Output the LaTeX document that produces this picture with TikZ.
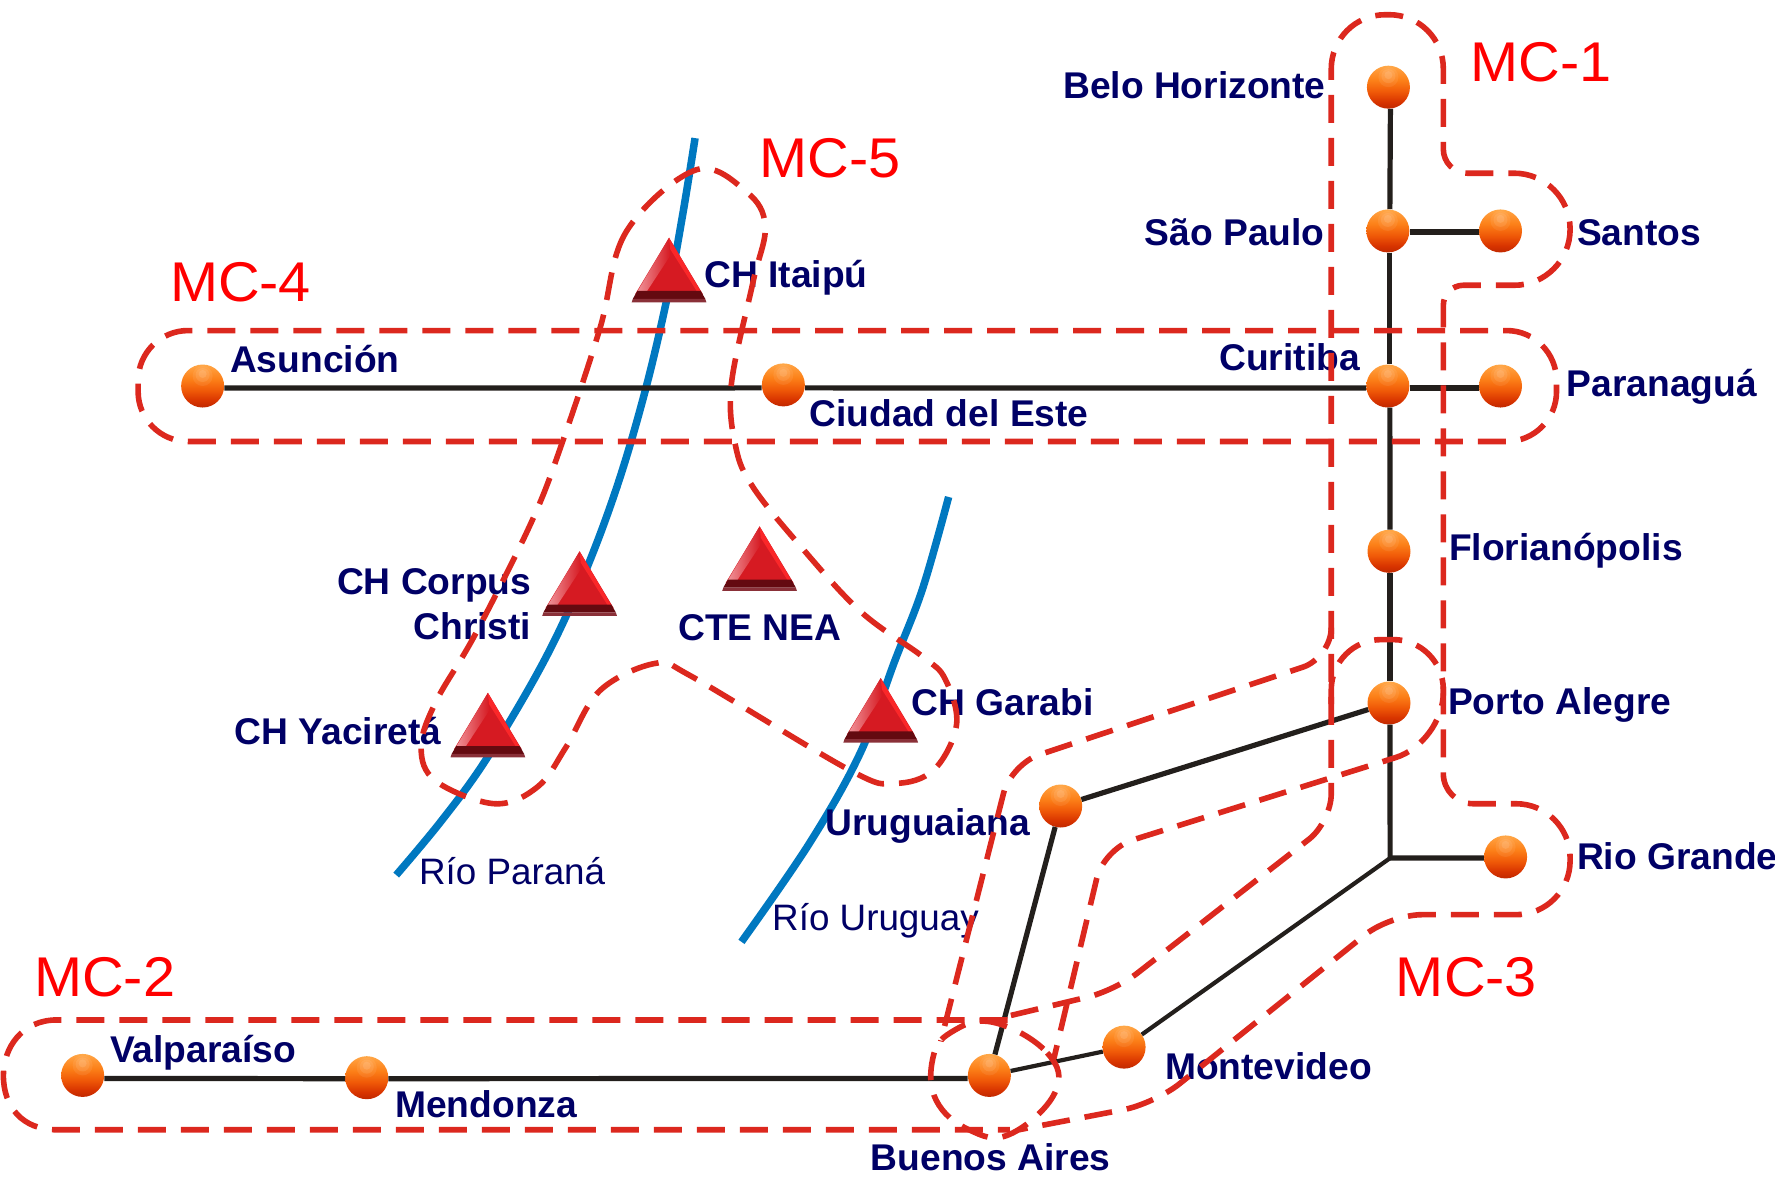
\documentclass[tikz,border=0pt]{standalone}
\usepackage{fontspec}
\setmainfont{Liberation Sans}
\newfontfamily\mcfont[FakeStretch=1.03]{Liberation Sans}
\definecolor{navytxt}{HTML}{000066}
\definecolor{mcred}{HTML}{DC281E}
\definecolor{mclabel}{HTML}{FF0000}
\definecolor{river}{HTML}{0078C0}
\definecolor{wire}{HTML}{231F1C}
\definecolor{mainred}{HTML}{D61A22}
\definecolor{darkred}{HTML}{640A10}
\definecolor{edgered}{HTML}{8A3038}
\definecolor{pinkred}{HTML}{EE8088}
\definecolor{orbB}{HTML}{FFA848}
\definecolor{orbC}{HTML}{FF9A38}
\definecolor{orbD}{HTML}{FC8018}
\definecolor{orbE}{HTML}{F05A08}
\definecolor{orbF}{HTML}{D83400}
\definecolor{orbG}{HTML}{C02800}
\pgfdeclareverticalshading{orbshade}{100bp}{
  color(0bp)=(orbG);
  color(25bp)=(orbG);
  color(33bp)=(orbF);
  color(45bp)=(orbE);
  color(58bp)=(orbD);
  color(70bp)=(orbC);
  color(75bp)=(orbB);
  color(100bp)=(orbB)}
\tikzset{
  orb/.style={circle,minimum size=43pt,inner sep=0pt,shading=orbshade,
    path picture={
      \fill[white,opacity=.07] ([yshift=10pt]path picture bounding box.center) circle (10pt);
      \fill[white,opacity=.09] ([yshift=11pt]path picture bounding box.center) circle (7pt);
      \fill[white,opacity=.11] ([yshift=12pt]path picture bounding box.center) circle (4pt);
    }},
  wirethick/.style={draw=wire,line width=5.2pt},
  wirethin/.style={draw=wire,line width=4.2pt},
  riverline/.style={draw=river,line width=7.5pt},
  zone/.style={draw=mcred,line width=5.6pt,dash pattern=on 28pt off 15pt},
  place/.style={anchor=base west,inner sep=0pt,text=navytxt,font=\fontsize{37.2}{45}\selectfont\bfseries},
  riverlabel/.style={anchor=base west,inner sep=0pt,text=navytxt,font=\fontsize{36.8}{45}\selectfont},
  mclbl/.style={anchor=base west,inner sep=0pt,text=mclabel,font=\fontsize{56}{60}\selectfont\mcfont}
}
\usetikzlibrary{calc}
\newcommand{\plant}[3]{%
  \coordinate (#1) at (#2,#3);
  \fill[mainred] ($(#1)+(0,-54)$) -- ($(#1)+(-30,-4)$) -- ($(#1)+(30,-4)$) -- cycle;
  \shade[left color=pinkred!80!white,right color=mainred] ($(#1)+(0,-54)$) -- ($(#1)+(-30,-3)$) -- ($(#1)+(-20,-6)$) -- ($(#1)+(1,-38)$) -- cycle;
  \fill[red!70!pinkred] ($(#1)+(0,-54)$) -- ($(#1)+(30,-3)$) -- ($(#1)+(25,-6)$) -- ($(#1)+(1,-44)$) -- cycle;
  \fill[darkred] ($(#1)+(-28,-7)$) -- ($(#1)+(28,-7)$) -- ($(#1)+(32,0)$) -- ($(#1)+(-32,0)$) -- cycle;
  \fill[edgered] ($(#1)+(-32,0)$) -- ($(#1)+(32,0)$) -- ($(#1)+(33,3)$) -- ($(#1)+(-33,3)$) -- cycle;
}
\begin{document}
\begin{tikzpicture}[x=1.1320pt,y=-1.1320pt]
\useasboundingbox (0,0) rectangle (1568,1039.7);
% rivers
\draw[riverline] plot[smooth,tension=.6] coordinates {(614,122) (603,190) (590,260) (570,345) (545,430) (515,510) (480,585) (430,670) (390,725) (350,773)};
\draw[riverline] plot[smooth,tension=.6] coordinates {(838,439) (815,520) (790,585) (760,665) (715,745) (655,832)};
% stations
\node[orb] (bh) at (1226.5,77) {};
\node[orb] (sp) at (1226,204) {};
\node[orb] (sa) at (1325.5,204) {};
\node[orb] (cu) at (1226,341) {};
\node[orb] (pg) at (1325.5,341) {};
\node[orb] (fl) at (1227,487) {};
\node[orb] (pa) at (1227,621) {};
\node[orb] (rg) at (1330,757) {};
\node[orb] (ur) at (937,712) {};
\node[orb] (ba) at (874,950) {};
\node[orb] (mv) at (993,925) {};
\node[orb] (me) at (324,952) {};
\node[orb] (va) at (73,950) {};
\node[orb] (as) at (179,341) {};
\node[orb] (ce) at (692,340) {};
\coordinate (jn) at (1228,758);
% connectors
\draw[wirethick] ([xshift=2pt]bh.south) -- ([xshift=2pt]sp.north);
\draw[wirethick] ([xshift=2pt]sp.south) -- ([xshift=2pt]cu.north);
\draw[wirethick] ([yshift=-1pt]sp.east) -- ([yshift=-1pt]sa.west);
\draw[wirethick] ([yshift=-2pt]as.east) -- ([yshift=-3pt]ce.west);
\draw[wirethick] ([yshift=-3pt]ce.east) -- ([yshift=-2pt]cu.west);
\draw[wirethick] ([yshift=-2pt]cu.east) -- ([yshift=-2pt]pg.west);
\draw[wirethick] ([xshift=2pt]cu.south) -- ([xshift=1pt]fl.north);
\draw[wirethick] ([xshift=1pt]fl.south) -- ([xshift=1pt]pa.north);
\draw[wirethick] ([xshift=1pt]pa.south) -- (jn);
\draw[wirethick] (jn) -- ([yshift=-1pt]rg.west);
\draw[wirethin] (jn) -- (mv);
\draw[wirethin] (mv) -- (ba);
\draw[wirethick] (ur) -- (pa);
\draw[wirethick] (ur) -- (ba);
\draw[wirethick] ([yshift=-3pt]va.east) -- ([yshift=-1pt]me.west);
\draw[wirethick] ([yshift=-1pt]me.east) -- ([yshift=-3pt]ba.west);
% plants
\plant{itaipu}{591}{264}
\plant{corpus}{512}{541}
\plant{yacireta}{431}{666}
\plant{ctenea}{671}{519}
\plant{garabi}{778}{653}
% labels
\node[place] (lbh) at (939,87) {Belo Horizonte};
\node[place] (lsp) at (1011,217) {São Paulo};
\node[place] (lsa) at (1393,217) {Santos};
\node[place] (lcu) at (1077,327) {Curitiba};
\node[place] (lpg) at (1384,350) {Paranaguá};
\node[place] (lfl) at (1280,495) {Florianópolis};
\node[place] (lpa) at (1279,631) {Porto Alegre};
\node[place] (lrg) at (1393,768) {Rio Grande};
\node[place] (lur) at (729,738) {Uruguaiana};
\node[place] (lba) at (769,1034) {Buenos Aires};
\node[place] (lmv) at (1029,954) {Montevideo};
\node[place] (lva) at (97,939) {Valparaíso};
\node[place] (lme) at (349,987) {Mendonza};
\node[place] (las) at (203,329) {Asunción};
\node[place] (lce) at (715,377) {Ciudad del Este};
\node[place] (lit) at (622,254) {CH Itaipú};
\node[place,anchor=east,align=right] (lco) at (469.5,534) {CH Corpus\\Christi};
\node[place] (lne) at (599,566) {CTE NEA};
\node[place] (lga) at (805,632) {CH Garabi};
\node[place] (lya) at (207,658) {CH Yaciretá};
\node[riverlabel] (lrp) at (370,781) {Río Paraná};
\node[riverlabel] (lru) at (682,822) {Río Uruguay};
% dashed zones
\draw[zone] (600,292) [rounded corners=50pt] -- (1375,292) -- (1375,390) -- (122,390) -- (122,292) -- cycle;
\draw[zone] (890,901) -- (50,901) .. controls (20,901) and (3,925) .. (3,950) .. controls (3,978) and (20,998) .. (50,998) -- (892,998);
\draw[zone] (893,897) [rounded corners=28pt] -- (985,875) -- (1176,726) [rounded corners=54pt] -- (1176,13) -- (1275,13) [rounded corners=24pt] -- (1275,153) [rounded corners=56pt] -- (1387,153) -- (1387,252) [rounded corners=20pt] -- (1275,252) [rounded corners=30pt] -- (1275,710) [rounded corners=54pt] -- (1387,710) -- (1387,808) [rounded corners=32pt] -- (1228,808) -- (1020,975) [sharp corners] -- (900,998);
\draw[zone] (1176,560) [rounded corners=30pt] -- (1176,581) -- (893,675) -- (831,920);
\draw[zone] (1176,622) [rounded corners=50pt] -- (1176,565) -- (1275,565) -- (1275,656) [rounded corners=30pt] -- (975,750) -- (931,935);
\draw[zone] plot[smooth cycle,tension=.7] coordinates {(877,903) (925,930) (932,965) (892,1002) (856,998) (827,972) (824,935) (840,912)};
\draw[zone] plot[smooth cycle,tension=.6] coordinates {(615,150) (553,205) (530,290) (497,390) (470,460) (420,560) (385,620) (372,660) (385,690) (437,710) (475,695) (500,660) (530,610) (579,586) (610,597) (750,680) (790,692) (825,680) (845,640) (835,600) (815,580) (760,540) (705,480) (665,430) (650,395) (646,340) (665,250) (676,200) (660,170)};
% zone labels
\node[mclbl] (m1) at (1299,72) {MC-1};
\node[mclbl] (m5) at (671,157) {MC-5};
\node[mclbl] (m4) at (150,266) {MC-4};
\node[mclbl] (m2) at (30,880) {MC-2};
\node[mclbl] (m3) at (1233,880) {MC-3};
\end{tikzpicture}
\end{document}
